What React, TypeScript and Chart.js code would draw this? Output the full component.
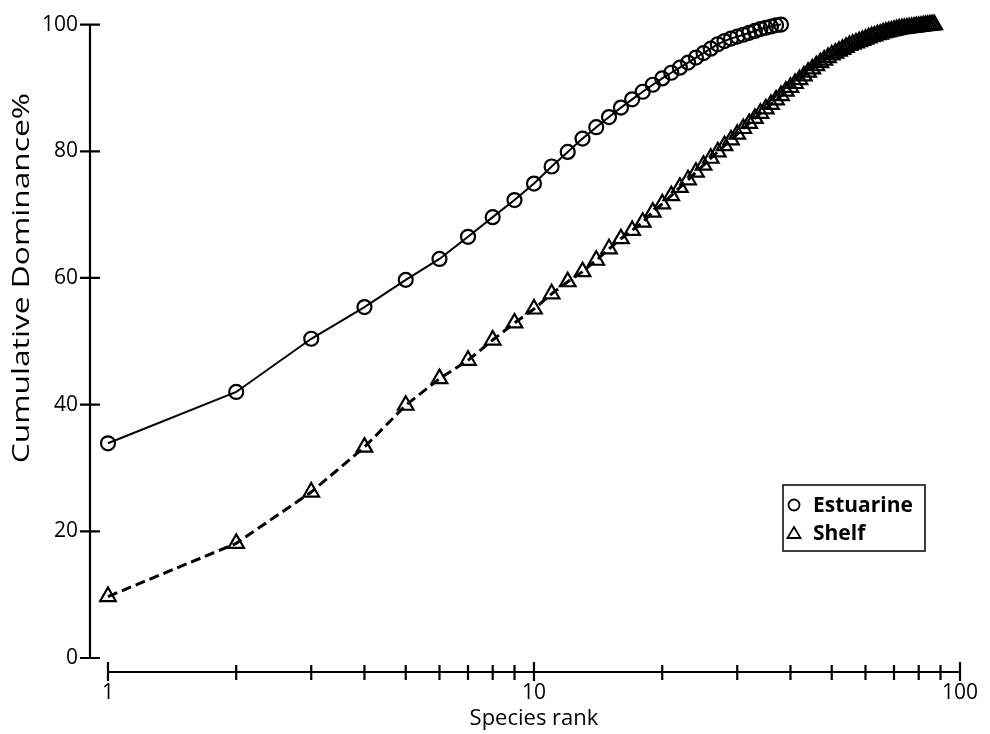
import React, { useEffect, useRef } from "react";
import { Chart, registerables } from "chart.js";

Chart.register(...registerables);

// Cumulative dominance (%) by species rank, one value per rank starting at 1
const estuarineDominance = [
  33.9, 42.0, 50.4, 55.4, 59.7, 63.0, 66.5, 69.6, 72.3, 74.9,
  77.6, 79.9, 82.0, 83.8, 85.4, 86.9, 88.2, 89.4, 90.5, 91.5,
  92.4, 93.2, 94.0, 94.8, 95.5, 96.2, 96.9, 97.4, 97.8, 98.1,
  98.4, 98.7, 99.0, 99.3, 99.5, 99.7, 99.9, 100,
];

const shelfDominance = [
  9.7, 18.1, 26.2, 33.3, 39.9, 44.1, 47.0, 50.2, 52.9, 55.1,
  57.5, 59.4, 61.0, 62.8, 64.6, 66.2, 67.5, 68.8, 70.4, 71.7,
  73.0, 74.3, 75.5, 76.7, 77.8, 78.9, 79.9, 80.9, 81.8, 82.7,
  83.6, 84.4, 85.2, 86.0, 86.7, 87.4, 88.1, 88.8, 89.5, 90.1,
  90.7, 91.3, 91.9, 92.5, 93.0, 93.5, 94.0, 94.4, 94.8, 95.2,
  95.5, 95.8, 96.1, 96.4, 96.7, 96.9, 97.1, 97.3, 97.5, 97.7,
  97.9, 98.1, 98.2, 98.4, 98.5, 98.7, 98.8, 98.9, 99.0, 99.1,
  99.2, 99.3, 99.35, 99.4, 99.45, 99.5, 99.55, 99.6, 99.65, 99.7,
  99.75, 99.8, 99.85, 99.9, 99.93, 99.97, 100,
];

const seriesNames = ["Estuarine", "Shelf"];
const xAxisTitle = "Species rank";
const yAxisTitle = "Cumulative Dominance%";
const yTickValues = [0, 20, 40, 60, 80, 100];
const xMajorTicks = [1, 10, 100];
const xMinorTicks = [2, 3, 4, 5, 6, 7, 8, 9, 20, 30, 40, 50, 60, 70, 80, 90];

const FONT = "'Open Sans', 'Noto Sans', sans-serif";

const toPoints = (values: number[]) => values.map((v, i) => ({ x: i + 1, y: v }));

// Axis lines drawn apart from each other, with ticks crossing the line
const offsetAxesPlugin = {
  id: "offsetAxes",
  afterDraw(chart: any) {
    const { ctx, chartArea } = chart;
    const xs = chart.scales.x;
    const ys = chart.scales.y;
    ctx.save();
    ctx.strokeStyle = "#000";
    ctx.lineWidth = 2.2;
    ctx.lineCap = "butt";

    const ax = chartArea.left;
    ctx.beginPath();
    ctx.moveTo(ax, ys.getPixelForValue(0) + 1);
    ctx.lineTo(ax, ys.getPixelForValue(100) - 1);
    for (const v of yTickValues) {
      const py = ys.getPixelForValue(v);
      ctx.moveTo(ax - 10, py);
      ctx.lineTo(ax + 10, py);
    }
    ctx.stroke();

    const ay = chartArea.bottom;
    ctx.beginPath();
    ctx.moveTo(xs.getPixelForValue(1), ay);
    ctx.lineTo(xs.getPixelForValue(100), ay);
    for (const v of xMajorTicks) {
      const px = xs.getPixelForValue(v);
      ctx.moveTo(px, ay - 10);
      ctx.lineTo(px, ay + 9);
    }
    for (const v of xMinorTicks) {
      const px = xs.getPixelForValue(v);
      ctx.moveTo(px, ay - 7);
      ctx.lineTo(px, ay + 8);
    }
    ctx.stroke();

    // Axis titles: horizontal one under the decade 10, vertical one stretched along the axis
    ctx.fillStyle = "#000";
    ctx.font = `22px ${FONT}`;
    ctx.textAlign = "center";
    ctx.textBaseline = "alphabetic";
    ctx.fillText(xAxisTitle, xs.getPixelForValue(10), chart.height - 9);

    ctx.save();
    ctx.font = `23px ${FONT}`;
    const textW = ctx.measureText(yAxisTitle).width;
    const span = ys.getPixelForValue(20) - ys.getPixelForValue(99);
    const midY = (ys.getPixelForValue(20) + ys.getPixelForValue(99)) / 2 - 3;
    ctx.translate(29, midY);
    ctx.rotate(-Math.PI / 2);
    ctx.scale(span * 0.74 / textW, 1);
    ctx.fillText(yAxisTitle, 0, 0);
    ctx.restore();

    ctx.restore();
  },
};

// Boxed legend in the lower right of the plot
const boxedLegendPlugin = {
  id: "boxedLegend",
  afterDraw(chart: any) {
    const { ctx, chartArea } = chart;
    const left = chartArea.right - 177;
    const top = chartArea.bottom - 187;
    const w = 142;
    const h = 66;
    ctx.save();
    ctx.strokeStyle = "#000";
    ctx.lineWidth = 1.5;
    ctx.strokeRect(left, top, w, h);

    ctx.font = `bold 21px ${FONT}`;
    ctx.fillStyle = "#000";
    ctx.textBaseline = "middle";
    ctx.textAlign = "left";
    ctx.lineWidth = 1.8;

    chart.data.datasets.forEach((ds: any, i: number) => {
      const cy = top + 20 + i * 28;
      const sx = left + 11;
      ctx.beginPath();
      if (ds.pointStyle === "triangle") {
        ctx.moveTo(sx, cy - 6);
        ctx.lineTo(sx + 6.5, cy + 5);
        ctx.lineTo(sx - 6.5, cy + 5);
        ctx.closePath();
      } else {
        ctx.arc(sx, cy, 5.5, 0, Math.PI * 2);
      }
      ctx.stroke();
      ctx.fillText(ds.label, left + 30, cy + 1);
    });
    ctx.restore();
  },
};

export default function App() {
  const canvasRef = useRef<HTMLCanvasElement | null>(null);

  useEffect(() => {
    if (!canvasRef.current) return;
    const chart = new Chart(canvasRef.current, {
      type: "line",
      data: {
        datasets: [
          {
            label: seriesNames[0],
            data: toPoints(estuarineDominance),
            borderColor: "#000",
            borderWidth: 2,
            pointStyle: "circle",
            pointRadius: 7,
            pointBorderWidth: 2.2,
            pointBorderColor: "#000",
            pointBackgroundColor: "rgba(0,0,0,0)",
            fill: false,
            tension: 0,
            clip: false as any,
          },
          {
            label: seriesNames[1],
            data: toPoints(shelfDominance),
            borderColor: "#000",
            borderWidth: 3,
            borderDash: [10, 5],
            pointStyle: "triangle",
            pointRadius: 9,
            pointBorderWidth: 2.2,
            pointBorderColor: "#000",
            pointBackgroundColor: "rgba(0,0,0,0)",
            fill: false,
            tension: 0,
            clip: false as any,
          },
        ],
      },
      options: {
        animation: false,
        responsive: false,
        devicePixelRatio: 1,
        layout: { padding: { top: 24, right: 30, left: 0, bottom: 0 } },
        plugins: {
          legend: { display: false },
          tooltip: { enabled: false },
        },
        scales: {
          x: {
            type: "logarithmic",
            min: 0.9074,
            max: 100,
            grid: { display: false, drawTicks: false },
            border: { display: false },
            afterBuildTicks: (scale: any) => {
              scale.ticks = xMajorTicks.map((v) => ({ value: v, major: true }));
            },
            afterFit: (scale: any) => {
              scale.height = 62;
            },
            ticks: {
              autoSkip: false,
              maxRotation: 0,
              padding: 8,
              color: "#000",
              font: { family: FONT, size: 21 },
              callback: (v: any) => String(v),
            },
          },
          y: {
            type: "linear",
            min: -2.21,
            max: 100,
            grid: { display: false, drawTicks: false },
            border: { display: false },
            afterBuildTicks: (scale: any) => {
              scale.ticks = yTickValues.map((v) => ({ value: v }));
            },
            afterFit: (scale: any) => {
              scale.width = 90;
            },
            ticks: {
              padding: 12,
              color: "#000",
              font: { family: FONT, size: 21 },
              callback: (v: any) => String(v),
            },
          },
        },
      },
      plugins: [offsetAxesPlugin, boxedLegendPlugin],
    });
    return () => chart.destroy();
  }, []);

  return (
    <div style={{ position: "absolute", left: 0, top: 0, width: 990, height: 734, background: "#fff" }}>
      <canvas ref={canvasRef} width={990} height={734} />
    </div>
  );
}
